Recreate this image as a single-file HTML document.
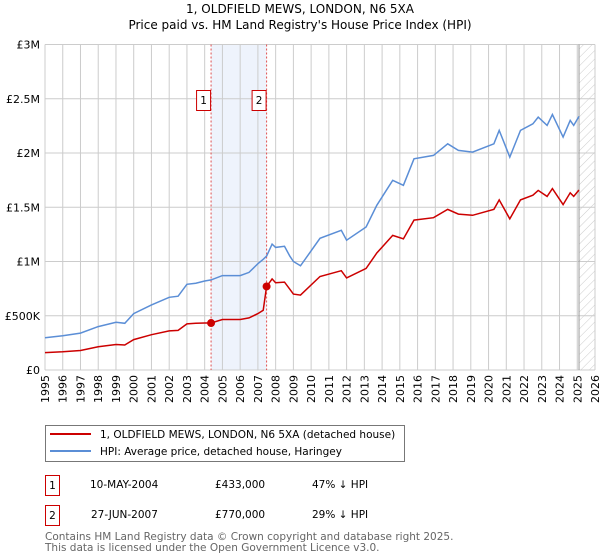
<!DOCTYPE html>
<html><head><meta charset="utf-8"><style>
body{margin:0;background:#fff;font-family:"DejaVu Sans","Liberation Sans",sans-serif;}
svg{display:block}
</style></head><body>
<svg id="chart" width="600" height="560" xmlns="http://www.w3.org/2000/svg" font-family="DejaVu Sans, Liberation Sans, sans-serif">
<text x="300" y="13" font-size="12" text-anchor="middle">1, OLDFIELD MEWS, LONDON, N6 5XA</text>
<text x="300" y="29" font-size="12" text-anchor="middle">Price paid vs. HM Land Registry's House Price Index (HPI)</text>
<defs><pattern id="hatch" width="6" height="6" patternUnits="userSpaceOnUse" patternTransform="rotate(45)"><line x1="0" y1="0" x2="0" y2="6" stroke="#ccc" stroke-width="1"/></pattern></defs>
<g id="grid"></g>
<g id="marks"></g>
<g id="axes"></g>
<rect x="45.5" y="425.5" width="359" height="36" fill="#fff" stroke="#777"/>
<line x1="50" y1="434" x2="91" y2="434" stroke="#cc0000" stroke-width="2"/>
<text x="100" y="438" font-size="10.5">1, OLDFIELD MEWS, LONDON, N6 5XA (detached house)</text>
<line x1="50" y1="451" x2="91" y2="451" stroke="#5b8ed6" stroke-width="2"/>
<text x="100" y="455" font-size="10.5">HPI: Average price, detached house, Haringey</text>
<g font-size="10.5">
<rect x="45.5" y="475.5" width="14" height="20" fill="#fff" stroke="#cc0000"/>
<text x="52.5" y="489" text-anchor="middle">1</text>
<text x="90" y="488">10-MAY-2004</text>
<text x="215" y="488">£433,000</text>
<text x="312" y="488">47% ↓ HPI</text>
</g>
<g font-size="10.5">
<rect x="45.5" y="505.5" width="14" height="20" fill="#fff" stroke="#cc0000"/>
<text x="52.5" y="519" text-anchor="middle">2</text>
<text x="91" y="518">27-JUN-2007</text>
<text x="215" y="518">£770,000</text>
<text x="312" y="518">29% ↓ HPI</text>
</g>
<text x="45" y="540" font-size="10.5" fill="#666">Contains HM Land Registry data © Crown copyright and database right 2025.</text>
<text x="45" y="551" font-size="10.5" fill="#666">This data is licensed under the Open Government Licence v3.0.</text>
</svg>
<script>
const dates=[1995.0,1996,1997,1998,1999,1999.5,2000,2001,2002,2002.5,2003,2003.5,2004,2004.36,2005,2006,2006.5,2007,2007.3,2007.49,2007.8,2008,2008.5,2008.8,2009,2009.4,2010.5,2011.7,2012.0,2013.1,2013.7,2014.6,2015.2,2015.8,2016.9,2017.7,2018.3,2019.1,2020.3,2020.6,2021.2,2021.8,2022.5,2022.8,2023.3,2023.6,2024.2,2024.6,2024.8,2025.1];
const hpiValues=[297,315,340,400,440,430,520,600,670,680,790,800,820,830,870,870,900,980,1020,1050,1160,1130,1140,1050,1000,960,1214,1288,1196,1318,1518,1748,1702,1947,1978,2085,2024,2008,2085,2208,1962,2208,2269,2331,2254,2355,2147,2300,2254,2337];
const propertyValues=[160,168,180,214,235,230,280,325,360,365,425,430,433,433,465,465,480,520,550,770,840,805,810,745,700,690,862,915,849,936,1078,1241,1208,1382,1404,1480,1437,1426,1480,1568,1393,1568,1611,1655,1600,1672,1524,1633,1600,1659];
const saleDates=[2004.36,2007.49];
const saleValues=[433,770];
const saleLabels=["1","2"];
const yTicks=[0,500,1000,1500,2000,2500,3000];
const yTickLabels=["£0","£500K","£1M","£1.5M","£2M","£2.5M","£3M"];
const xYears=[1995,1996,1997,1998,1999,2000,2001,2002,2003,2004,2005,2006,2007,2008,2009,2010,2011,2012,2013,2014,2015,2016,2017,2018,2019,2020,2021,2022,2023,2024,2025,2026];
const forecastStart=2025.1;

const L=45,R=595,T=44.5,B=370;
const x=v=>L+(v-1995)/(2026-1995)*(R-L);
const y=v=>B-v/3000*(B-T);
const NS="http://www.w3.org/2000/svg";
function mk(tag,attrs,parent){const e=document.createElementNS(NS,tag);for(const k in attrs)e.setAttribute(k,attrs[k]);parent.appendChild(e);return e;}
const grid=document.getElementById('grid'),marks=document.getElementById('marks'),axes=document.getElementById('axes');
const band=mk('rect',{x:x(saleDates[0]),y:T,width:x(saleDates[1])-x(saleDates[0]),height:B-T,fill:'#eef3fc'},grid);


const hz=mk('rect',{x:x(forecastStart),y:T,width:R-x(forecastStart),height:B-T,fill:'url(#hatch)'},grid);


xYears.forEach(yr=>{const l=mk('line',{x1:x(yr),x2:x(yr),y1:T,y2:B,stroke:'#ccc'},grid);


const t=mk('text',{x:0,y:0,'font-size':'11',transform:`translate(${x(yr)+4},${B+5}) rotate(-90)`,'text-anchor':'end'},axes);
t.textContent=yr;

});
yTicks.forEach((v,i)=>{const l=mk('line',{x1:L,x2:R,y1:y(v),y2:y(v),stroke:'#ccc'},grid);


const t=mk('text',{x:L-5,y:y(v)+4,'font-size':'11','text-anchor':'end'},axes);
t.textContent=yTickLabels[i];

});
const fl=mk('line',{x1:x(forecastStart),x2:x(forecastStart),y1:T,y2:B,stroke:'#999'},grid);


saleDates.forEach((d,i)=>{const l=mk('line',{x1:x(d),x2:x(d),y1:T,y2:B,stroke:'#e05050','stroke-dasharray':'2,2'},grid);


const g=mk('g',{},axes);


mk('rect',{x:x(d)-21.5+7,y:90.5,width:14,height:20,fill:'#fff',stroke:'#cc0000'},g);
const t=mk('text',{x:x(d)-7.5,y:104,'font-size':'10.5','text-anchor':'middle'},g);t.textContent=saleLabels[i];});
function path(vals){return vals.map((v,i)=>(i?'L':'M')+x(dates[i]).toFixed(1)+','+y(v).toFixed(1)).join('');}
const hp=mk('path',{d:path(hpiValues),fill:'none',stroke:'#5b8ed6','stroke-width':'1.5'},marks);


const pp=mk('path',{d:path(propertyValues),fill:'none',stroke:'#cc0000','stroke-width':'1.5'},marks);


saleDates.forEach((d,i)=>{const c=mk('circle',{cx:x(d),cy:y(saleValues[i]),r:4,fill:'#cc0000'},marks);

});
</script>
</body></html>
